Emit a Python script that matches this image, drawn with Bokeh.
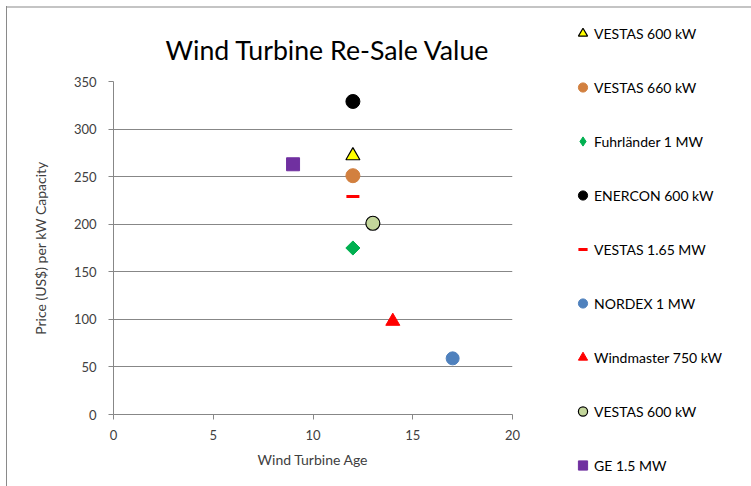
import math
from bokeh.plotting import figure
from bokeh.layouts import row
from bokeh.models import Legend, LegendItem, Range1d, FixedTicker
from bokeh.embed import file_html
from bokeh.resources import INLINE

# ---- data ----
names = ["VESTAS 600 kW", "VESTAS 660 kW", "Fuhrländer 1 MW", "ENERCON 600 kW",
         "VESTAS 1.65 MW", "NORDEX 1 MW", "Windmaster 750 kW", "VESTAS 600 kW", "GE 1.5 MW"]
ages = [12, 12, 12, 12, 12, 17, 14, 13, 9]
prices = [272, 251, 175, 329, 229, 59, 98, 201, 263]
x_ticks = [0, 5, 10, 15, 20]
y_ticks = [0, 50, 100, 150, 200, 250, 300, 350]

# ---- styles ----
markers = ["triangle", "circle", "square", "circle", "dash", "circle", "triangle", "circle", "square"]
legend_markers = ["triangle", "circle", "diamond", "circle", "dash", "circle", "triangle", "circle", "square"]
angles = [0, 0, math.pi / 4, 0, 0, 0, 0, 0, 0]
fills = ["#FFFF00", "#D2803F", "#00B050", "#000000", "#FF0000", "#4F81BD", "#FF0000", "#C3D69B", "#7030A0"]
lines = ["#000000", "#D2803F", "#00B050", "#000000", "#FF0000", "#4F81BD", "#FF0000", "#000000", "#7030A0"]
sizes = [14, 14, 10, 14, 13, 13, 14, 14, 13]
lwidths = [1.2, 1, 1, 1, 3, 1, 1, 1.2, 1]

FONT = "Lato"
TXT = "#404040"
NAN = float("nan")

p = figure(width=560, height=486, output_backend="svg", toolbar_location=None,
           x_range=Range1d(0, 20), y_range=Range1d(0, 350),
           min_border_left=113, min_border_right=48, min_border_top=81, min_border_bottom=72)
p.border_fill_alpha = 0
p.frame_align = False

p.title.text = "Wind Turbine Re-Sale Value"
p.title.text_font = FONT
p.title.text_font_size = "26.7px"
p.title.text_font_style = "normal"
p.title.text_color = "#000000"
p.title.align = "left"
p.title.offset = 52
p.title.standoff = 31

p.outline_line_color = None
p.background_fill_color = "white"
p.xgrid.grid_line_color = None
p.ygrid.grid_line_color = "#878787"
p.ygrid.grid_line_width = 1

for ax in (p.xaxis[0], p.yaxis[0]):
    ax.axis_line_color = "#878787"
    ax.major_tick_line_color = "#878787"
    ax.major_tick_in = 0
    ax.major_tick_out = 5
    ax.minor_tick_line_color = None
    ax.major_label_text_font = FONT
    ax.major_label_text_font_size = "13px"
    ax.major_label_text_color = TXT
    ax.axis_label_text_font = FONT
    ax.axis_label_text_font_size = "14px"
    ax.axis_label_text_font_style = "normal"
    ax.axis_label_text_color = TXT

p.xaxis.ticker = FixedTicker(ticks=x_ticks)
p.yaxis.ticker = FixedTicker(ticks=y_ticks)
p.xaxis.axis_label = "Wind Turbine Age"
p.yaxis.axis_label = "Price (US$) per kW Capacity"
p.xaxis.major_label_standoff = 10
p.yaxis.major_label_standoff = 12
p.xaxis.axis_label_standoff = 8
p.yaxis.axis_label_standoff = 22

# legend panel (separate figure holding only the legend)
q = figure(width=191, height=486, output_backend="svg", toolbar_location=None,
           x_axis_location=None, y_axis_location=None,
           min_border_left=0, min_border_right=0, min_border_top=0, min_border_bottom=0)
q.frame_align = False
q.border_fill_alpha = 0
q.background_fill_alpha = 0
q.outline_line_color = None
q.xgrid.grid_line_color = None
q.ygrid.grid_line_color = None

items = []
for i, name in enumerate(names):
    common = dict(fill_color=fills[i], line_color=lines[i], line_width=lwidths[i])
    p.scatter(x=[ages[i]], y=[prices[i]], marker=markers[i], size=sizes[i],
              angle=angles[i], **common)
    lr = q.scatter(x=[NAN], y=[NAN], marker=legend_markers[i], size=sizes[i], **common)
    items.append(LegendItem(label=name, renderers=[lr]))

legend = Legend(items=items, location=(11, 9), orientation="vertical",
                spacing=30, padding=0, margin=0, label_standoff=0,
                glyph_width=23, glyph_height=24, label_height=24,
                label_text_font=FONT, label_text_font_size="14px", label_text_color="#000000",
                border_line_color=None, background_fill_alpha=0)
q.add_layout(legend, "center")

layout = row(p, q)
layout.styles = {"box-shadow": "inset 6px 6px 0 0 #ffffff, inset 7px 0 0 0 #8a8a8a, inset 0 8px 0 0 #c4c4c4"}

open("out.html", "w").write(file_html(layout, INLINE))
